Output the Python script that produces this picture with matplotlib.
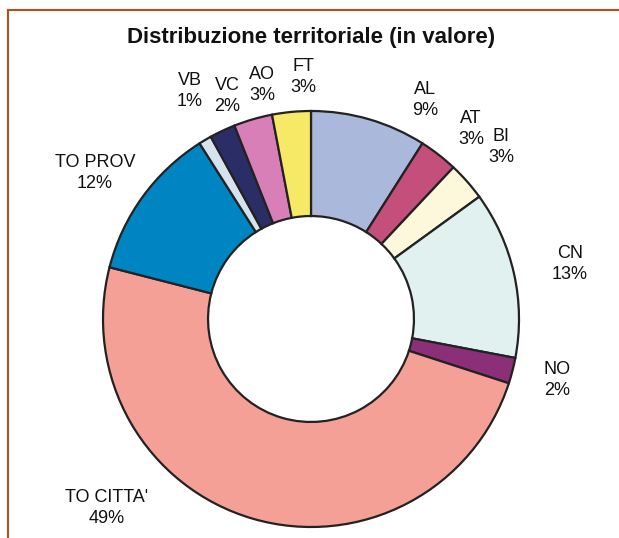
import matplotlib
matplotlib.use("Agg")
import matplotlib.pyplot as plt
from matplotlib.lines import Line2D

plt.rcParams['font.family'] = ['Liberation Sans', 'DejaVu Sans']

title = "Distribuzione territoriale (in valore)"
categories = ["AL", "AT", "BI", "CN", "NO", "TO CITTA'", "TO PROV", "VB", "VC", "AO", "FT"]
values = [9, 3, 3, 13, 2, 49, 12, 1, 2, 3, 3]
colors = ["#aab8dc", "#c44f7a", "#fdf7dc", "#e0f1ef", "#8a2f78", "#f4a096",
          "#0085c3", "#d6e2ee", "#2b2e66", "#d87fb8", "#f5e965"]
# label anchor points in pixel space of the reference (centre of two-line label)
label_px = {
    "AL": (425, 100), "AT": (471, 129), "BI": (501, 147), "CN": (570, 264),
    "NO": (557, 380), "TO CITTA'": (107, 508), "TO PROV": (95, 173),
    "VB": (190, 91), "VC": (227, 96), "AO": (262, 85), "FT": (303, 77),
}

W, H = 619, 538
cx, cy, R = 311, 319, 208

fig = plt.figure(figsize=(W / 100, H / 100), dpi=100)
ax = fig.add_axes([0, 0, 1, 1])
ax.pie(values, colors=colors, startangle=90, counterclock=False, radius=1.0,
       wedgeprops=dict(width=0.505, edgecolor="#222222", linewidth=1.6))
ax.set_xlim(-cx / R, (W - cx) / R)
ax.set_ylim(-(H - cy) / R, cy / R)
ax.set_aspect('auto')
ax.axis('off')

for cat, val in zip(categories, values):
    px, py = label_px[cat]
    ax.text((px - cx) / R, (cy - py) / R, f"{cat}\n{val}%", ha='center', va='center',
            fontsize=13, linespacing=1.3, color='#111111')

fig.text(311 / W, 1 - 38 / H, title, ha='center', va='center', fontsize=16,
         fontweight='bold', color='#111111')

# orange frame (top and left)
frame_c = "#b5501e"
fig.add_artist(Line2D([8 / W, 1], [1 - 10 / H, 1 - 10 / H], color=frame_c, lw=1.5,
                      transform=fig.transFigure))
fig.add_artist(Line2D([8 / W, 8 / W], [0, 1 - 10 / H], color=frame_c, lw=1.5,
                      transform=fig.transFigure))

fig.savefig("out.png", dpi=100)
